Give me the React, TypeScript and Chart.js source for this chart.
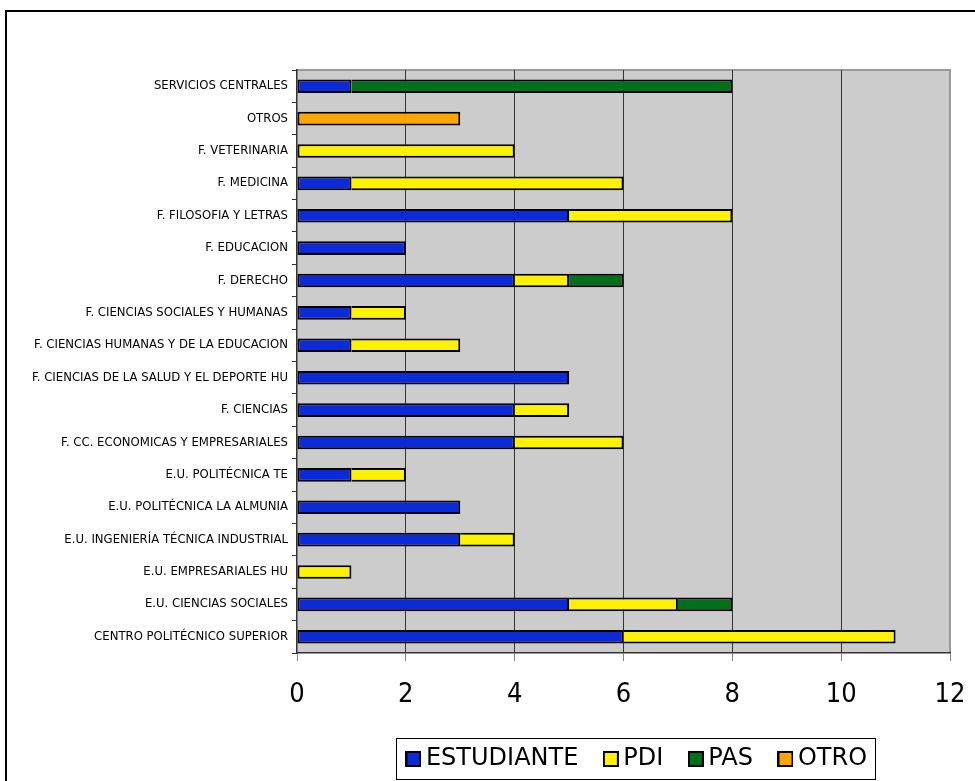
import React, { useEffect, useRef } from "react";
import { Chart, registerables } from "chart.js";

Chart.register(...registerables);

const categories = [
  "SERVICIOS CENTRALES",
  "OTROS",
  "F. VETERINARIA",
  "F. MEDICINA",
  "F. FILOSOFIA Y LETRAS",
  "F. EDUCACION",
  "F. DERECHO",
  "F. CIENCIAS SOCIALES Y HUMANAS",
  "F. CIENCIAS HUMANAS Y DE LA EDUCACION",
  "F. CIENCIAS DE LA SALUD Y EL DEPORTE HU",
  "F. CIENCIAS",
  "F. CC. ECONOMICAS Y EMPRESARIALES",
  "E.U. POLITÉCNICA TE",
  "E.U. POLITÉCNICA LA ALMUNIA",
  "E.U. INGENIERÍA TÉCNICA INDUSTRIAL",
  "E.U. EMPRESARIALES HU",
  "E.U. CIENCIAS SOCIALES",
  "CENTRO POLITÉCNICO SUPERIOR",
];

const estudiante = [1, 0, 0, 1, 5, 2, 4, 1, 1, 5, 4, 4, 1, 3, 3, 0, 5, 6];
const pdi = [0, 0, 4, 5, 3, 0, 1, 1, 2, 0, 1, 2, 1, 0, 1, 1, 2, 5];
const pas = [7, 0, 0, 0, 0, 0, 1, 0, 0, 0, 0, 0, 0, 0, 0, 0, 1, 0];
const otro = [0, 3, 0, 0, 0, 0, 0, 0, 0, 0, 0, 0, 0, 0, 0, 0, 0, 0];

const seriesNames = ["ESTUDIANTE", "PDI", "PAS", "OTRO"];
const seriesColors = ["#0B2BD9", "#FFF200", "#00701A", "#FFA500"];
const xTicks = [0, 2, 4, 6, 8, 10, 12];

const FONT_C = "'DejaVu Sans Condensed', 'DejaVu Sans', sans-serif";
const FONT = "'DejaVu Sans', sans-serif";

function makeIcon(color: string): HTMLCanvasElement {
  const c = document.createElement("canvas");
  c.width = 16;
  c.height = 16;
  const g = c.getContext("2d")!;
  g.fillStyle = "#000";
  g.fillRect(0, 0, 16, 16);
  g.fillStyle = color;
  g.fillRect(2, 2, 12, 12);
  return c;
}

export default function App() {
  const ref = useRef<HTMLCanvasElement | null>(null);

  useEffect(() => {
    document.body.style.margin = "0";
    const canvas = ref.current!;
    const icons = seriesColors.map(makeIcon);
    const values = [estudiante, pdi, pas, otro];

    const bgPlugin = {
      id: "bgPlugin",
      beforeDraw(chart: any) {
        const { ctx, chartArea } = chart;
        const { left, top, right, bottom } = chartArea;
        ctx.save();
        ctx.fillStyle = "#CCCCCC";
        ctx.fillRect(left, top, right - left, bottom - top);
        ctx.strokeStyle = "#999999";
        ctx.lineWidth = 2;
        ctx.beginPath();
        ctx.moveTo(left, top);
        ctx.lineTo(right, top);
        ctx.lineTo(right, bottom);
        ctx.stroke();
        ctx.restore();
      },
      afterLayout(chart: any) {
        const dx = 165;
        chart.legend.left += dx;
        chart.legend.right += dx;
      },
      afterDraw(chart: any) {
        const { ctx } = chart;
        ctx.save();
        ctx.strokeStyle = "#000";
        ctx.lineWidth = 2;
        ctx.beginPath();
        ctx.moveTo(6, 800);
        ctx.lineTo(6, 11);
        ctx.lineTo(990, 11);
        ctx.stroke();
        const hb = chart.legend.legendHitBoxes;
        if (hb && hb.length) {
          const l = hb[0].left - 7.5 - 9;
          const last = hb[hb.length - 1];
          const r = last.left + last.width + 8;
          const t = 738;
          const b = 779;
          ctx.lineWidth = 1;
          ctx.strokeRect(Math.round(l) + 0.5, t + 0.5, Math.round(r - l), b - t);
        }
        ctx.restore();
      },
    };

    const chart = new Chart(canvas, {
      type: "bar",
      data: {
        labels: categories,
        datasets: values.map((v, i) => ({
          label: seriesNames[i],
          data: v.map((x) => (x === 0 ? null : x)),
          backgroundColor: seriesColors[i],
          borderColor: "#000",
          borderWidth: 2,
          inflateAmount: 0,
          borderSkipped: (ctx: any) => {
            const idx = ctx.dataIndex;
            let prev = 0;
            for (let k = 0; k < ctx.datasetIndex; k++) prev += values[k][idx] || 0;
            return prev > 0 ? "start" : false;
          },
          categoryPercentage: 1,
          barPercentage: 0.42,
        })),
      },
      options: {
        indexAxis: "y",
        responsive: false,
        animation: false,
        devicePixelRatio: 1,
        layout: { padding: { left: 0, top: 70, right: 25, bottom: 0 } },
        scales: {
          x: {
            stacked: true,
            min: 0,
            max: 12,
            afterBuildTicks: (scale: any) => {
              scale.ticks = xTicks.map((v) => ({ value: v }));
            },
            afterFit: (scale: any) => {
              scale.height = 62;
              scale.paddingLeft = 0;
              scale.paddingRight = 0;
            },
            grid: {
              color: (c: any) =>
                c.tick && (c.tick.value === 0 || c.tick.value === 12) ? "rgba(0,0,0,0)" : "#333333",
              tickColor: "#808080",
              tickLength: 8,
              lineWidth: 1,
            },
            border: { display: true, color: "#333333", width: 1.5 },
            ticks: {
              color: "#000",
              font: { family: FONT_C, size: 27 },
              padding: 18,
              maxRotation: 0,
            },
          },
          y: {
            stacked: true,
            afterFit: (scale: any) => {
              scale.width = 297;
            },
            grid: {
              drawOnChartArea: false,
              offset: true,
              tickLength: 5,
              color: "#333333",
            },
            border: { display: true, color: "#333333", width: 1.5 },
            ticks: {
              color: "#000",
              autoSkip: false,
              font: { family: FONT, size: 11.7 },
              padding: 4,
            },
          },
        },
        plugins: {
          tooltip: { enabled: false },
          legend: {
            position: "bottom",
            labels: {
              usePointStyle: true,
              pointStyleWidth: 1,
              padding: 32,
              color: "#000",
              font: { family: FONT, size: 24 },
              generateLabels: () =>
                seriesNames.map((n, i) => ({
                  text: n,
                  fillStyle: seriesColors[i],
                  strokeStyle: "#000",
                  lineWidth: 0,
                  pointStyle: icons[i] as any,
                  hidden: false,
                  datasetIndex: i,
                })),
            },
          },
        },
      } as any,
      plugins: [bgPlugin],
    });
    return () => chart.destroy();
  }, []);

  return (
    <div style={{ width: 975, height: 781 }}>
      <canvas ref={ref} width={975} height={781} style={{ display: "block" }} />
    </div>
  );
}
